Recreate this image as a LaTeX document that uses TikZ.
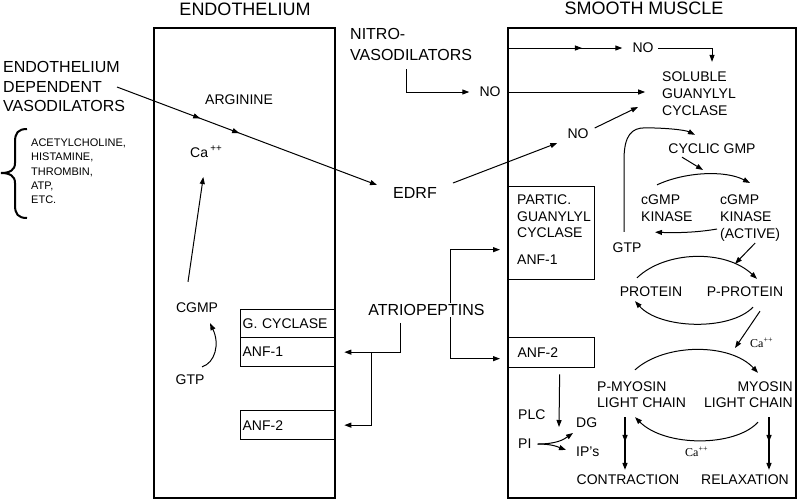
\documentclass[tikz,border=0pt]{standalone}
\usepackage{fontspec}
\setmainfont{Liberation Sans}
\newfontfamily\serifca{Liberation Serif}
\usetikzlibrary{arrows.meta,decorations.markings,backgrounds}
\tikzset{
  txt/.style={inner sep=0pt, font=\fontsize{14}{17}\selectfont},
  big/.style={inner sep=0pt, font=\fontsize{16}{20}\selectfont},
  head/.style={inner sep=0pt, font=\fontsize{18}{22}\selectfont},
  arr/.style={-{Triangle[length=7pt,width=5pt]}, line width=1pt},
  cellbox/.style={draw, line width=1.8pt, inner sep=0pt},
  subbox/.style={draw, line width=1.3pt, font=\fontsize{14}{17}\selectfont, align=left},
  onemid/.style={postaction={decorate}, decoration={markings, mark=at position #1 with {\arrow{Triangle[length=7pt,width=5pt]}}}},
  onemid/.default=0.47,
  twomid/.style={postaction={decorate}, decoration={markings,
     mark=at position 0.32 with {\arrow{Triangle[length=7pt,width=5pt]}},
     mark=at position 0.47 with {\arrow{Triangle[length=7pt,width=5pt]}}}},
  caplus/.style={inner sep=0pt, font=\serifca\fontsize{12}{14}\selectfont}
}
\begin{document}
\begin{tikzpicture}[x=1pt,y=-1pt]
\path[use as bounding box] (0,0) rectangle (800,499);

% headings
\node[head] (hendo) at (245,9) {ENDOTHELIUM};
\node[head] (hsmc) at (644,8) {SMOOTH MUSCLE};

% cell boxes
\node[cellbox, anchor=north west, minimum width=181pt, minimum height=470pt] (endo) at (153,27) {};
\node[cellbox, anchor=north west, minimum width=288pt, minimum height=470pt] (smc) at (507,27) {};

% receptor boxes (endothelium)
\node[subbox, anchor=north west, minimum width=94pt, minimum height=28pt, inner xsep=2pt, text width=90pt] (gcyc) at (240,309) {G. CYCLASE};
\node[subbox, anchor=north west, minimum width=94pt, minimum height=29pt, inner xsep=2pt, text width=90pt] (anfl1) at (240,337) {ANF-1};
\node[subbox, anchor=north west, minimum width=94pt, minimum height=29pt, inner xsep=2pt, text width=90pt] (anfl2) at (240,410) {ANF-2};

% receptor boxes (smooth muscle)
\node[subbox, anchor=north west, minimum width=87pt, minimum height=93pt, inner sep=0pt] (pgc) at (507,186) {};
\node[txt, anchor=west, align=left, font=\fontsize{14}{16.5}\selectfont] (pgct) at (517,216.5) {PARTIC.\\GUANYLYL\\CYCLASE};
\node[txt, anchor=west] (anfr1) at (517,260) {ANF-1};
\node[subbox, anchor=north west, minimum width=87pt, minimum height=30pt, inner xsep=10pt, text width=67pt] (anfr2) at (507,337) {ANF-2};

% left texts
\node[inner sep=0pt, anchor=west, align=left, font=\fontsize{16}{19.5}\selectfont] (edv) at (3,86.5) {ENDOTHELIUM\\DEPENDENT\\VASODILATORS};
\node[inner sep=0pt, anchor=west, align=left, font=\fontsize{11}{14.3}\selectfont] (list) at (31,171.5) {ACETYLCHOLINE,\\HISTAMINE,\\THROMBIN,\\ATP,\\ETC.};
\draw[line width=2pt] (27,129) .. controls (18,129) and (15,133) .. (15,142) -- (15,163)
  .. controls (15,170) and (10,173) .. (1,173) .. controls (10,173) and (15,176) .. (15,183)
  -- (15,205) .. controls (15,214) and (18,218) .. (27,218);

% endothelium texts
\node[txt] (arg) at (239,100) {ARGININE};
\node[txt, anchor=base west] (ca) at (190,157) {Ca\,\textsuperscript{++}};
\node[txt] (cgmp) at (197,308) {CGMP};
\node[txt] (gtpa) at (190,380) {GTP};

% middle texts
\node[big] (edrf) at (415,193) {EDRF};
\node[inner sep=0pt, anchor=west, align=left, font=\fontsize{16}{20.5}\selectfont] (nitro) at (350,44.25) {NITRO-\\VASODILATORS};
\node[big, fill=white, inner sep=1pt] (atrio) at (426.5,310) {ATRIOPEPTINS};

% smooth muscle texts
\node[txt] (noa) at (643,48) {NO};
\node[txt] (nob) at (490,92) {NO};
\node[txt] (noc) at (578,134) {NO};
\node[txt, anchor=west, align=left] (sgc) at (662,94) {SOLUBLE\\GUANYLYL\\CYCLASE};
\node[txt] (cyc) at (712,149) {CYCLIC GMP};
\node[txt, anchor=west, align=left] (kin) at (641,208.5) {cGMP\\KINASE};
\node[txt, anchor=west, align=left] (kina) at (720,218.5) {cGMP\\KINASE\\(ACTIVE)};
\node[txt] (gtpb) at (627,248) {GTP};
\node[txt] (prot) at (651,292) {PROTEIN};
\node[txt] (pprot) at (745,292) {P-PROTEIN};
\node[caplus, anchor=base west] (caa) at (750,347) {Ca\textsuperscript{++}};
\node[txt, anchor=west, align=left, font=\fontsize{14}{16}\selectfont] (pmyo) at (597,395) {P-MYOSIN\\LIGHT CHAIN};
\node[txt, anchor=east, align=right, font=\fontsize{14}{16}\selectfont] (myo) at (793,395) {MYOSIN\\LIGHT CHAIN};
\node[caplus, anchor=base west] (cab) at (685,456) {Ca\textsuperscript{++}};
\node[txt] (contr) at (628,480) {CONTRACTION};
\node[txt] (relax) at (745,480) {RELAXATION};
\node[txt, anchor=west] (plc) at (518,415) {PLC};
\node[txt, anchor=west] (dg) at (576,423) {DG};
\node[txt, anchor=west] (pi) at (518,444) {PI};
\node[txt, anchor=west] (ips) at (576,452) {IP's};

% ---- connectors ----
\coordinate (edvout) at (117,87);
\draw[arr, twomid] (edvout) -- ([shift={(-16,-8)}]edrf.west);
\draw[arr] ([shift={(-9,-21)}]cgmp.north) -- ([shift={(-3,20)}]ca.base);
\draw[arr] ([shift={(12,-8)}]gtpa.north) .. controls +(13,-4) and +(10,21) .. ([shift={(13,10)}]cgmp.south);

% atriopeptins
\draw[arr] ([shift={(-26.5,6)}]atrio.south) |- ([xshift=9pt]anfl1.east);
\draw[arr] ([xshift=36pt]anfl1.east) |- ([xshift=9pt]anfl2.east);
\begin{scope}[on background layer]
\draw[arr] ([xshift=23.5pt]atrio.center) |- ([shift={(-7,16.5)}]pgc.west);
\draw[arr] ([xshift=23.5pt]atrio.center) |- ([shift={(-7,6)}]anfr2.west);
\end{scope}

% nitrovasodilators / NO
\draw[arr] ([shift={(56,9)}]nitro.south west) |- ([xshift=-10pt]nob.west);
\draw[arr] ([xshift=6.5pt]nob.east) -- ++(138,0);
\draw[arr, onemid=0.65] (smc.west |- noa.west) -- ([xshift=-10pt]noa.west);
\draw[arr] ([xshift=4.5pt]noa.east) -| ([shift={(13,-10)}]sgc.north);
\draw[arr] ([shift={(16,-10)}]edrf.east) -- ([shift={(-10,9)}]noc.west);
\draw[arr] ([shift={(6,-6)}]noc.east) -- ([shift={(-24,13)}]sgc.west);

% cGMP cascade
\draw[arr] ([shift={(-3,-11)}]gtpb.north) -- ++(0,-72) .. controls +(0,-25) and +(-13,0) .. ++(21,-32)
   .. controls +(20,0) and +(-10,-5) .. ([shift={(-17,-9)}]cyc.north);
\draw[arr] ([shift={(-30,3)}]cyc.south) -- ([shift={(-17,-25)}]kina.north west);
\draw[arr] ([shift={(16,-10)}]kin.north west) .. controls +(28,-13) and +(-25,-13) .. ([shift={(30,-12)}]kina.north west);
\draw[arr] ([shift={(-3,10.5)}]kina.west) .. controls +(-17,3) and +(25,1) .. ([shift={(14,10)}]kin.south west);
\draw[arr] ([shift={(5,1)}]kina.south) -- ([shift={(-10,-23)}]pprot.north);
\draw[arr] ([shift={(-14,-9)}]prot.north) .. controls +(28,-27) and +(-32,-30) .. ([shift={(12,-8)}]pprot.north);
\draw[arr] ([shift={(8,10)}]pprot.south) .. controls +(-23,24) and +(25,28) .. ([shift={(-16,4)}]prot.south);
\draw[arr] ([shift={(15,14)}]pprot.south) -- ([shift={(-15,1)}]caa.base west);

% myosin
\draw[arr] ([shift={(38,-12)}]pmyo.north west) .. controls +(30,-27) and +(-28,-30) .. ([shift={(-35,-9)}]myo.north east);
\draw[arr] ([shift={(-35,14)}]myo.south east) .. controls +(-23,25) and +(30,30) .. ([shift={(38,9)}]pmyo.south west);
\draw[arr, line width=1.4pt, onemid] ([shift={(28,9)}]pmyo.south west) -- ([shift={(-3,-5)}]contr.north);
\draw[arr, line width=1.4pt, onemid] ([shift={(-24,9)}]myo.south east) -- ([shift={(24,-5)}]relax.north);

% ANF-2 pathway
\draw[arr] ([shift={(8.5,6)}]anfr2.south) -- ([shift={(-17,4)}]dg.west);
\draw[arr] ([xshift=6pt]pi.east) .. controls +(18,0) and +(-10,7) .. ([shift={(-3,10)}]dg.west);
\draw[arr] ([xshift=6pt]pi.east) .. controls +(15,0) and +(-8,-3) .. ([shift={(-10,-2)}]ips.west);
\end{tikzpicture}
\end{document}
